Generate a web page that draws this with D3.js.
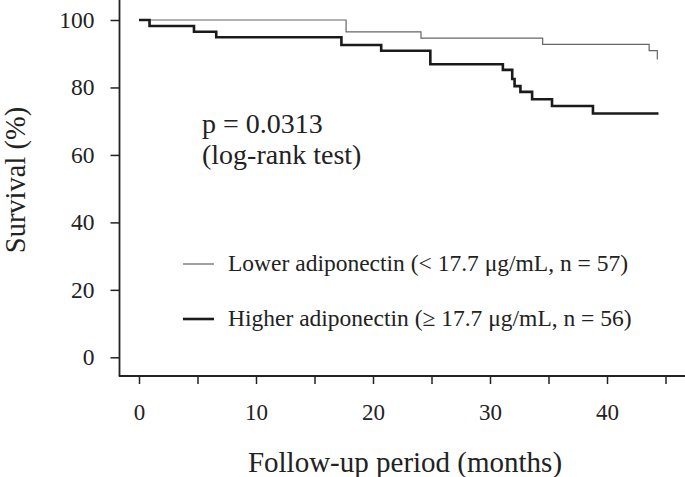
<!DOCTYPE html>
<html>
<head>
<meta charset="utf-8">
<script src="https://cdn.jsdelivr.net/npm/d3@7"></script>
<style>
  body { margin: 0; background: #fff; }
  svg text { font-family: "Liberation Serif", "Times New Roman", serif; fill: #222; }
</style>
</head>
<body>
<div id="chart"></div>
<script>
// Kaplan-Meier steps
const lowerTimes = [0, 17.7, 24.1, 34.5, 43.6, 44.3];
const lowerSurvival = [100, 96.5, 94.6, 92.8, 90.9, 88.3];

const higherTimes = [0, 0.9, 4.7, 6.6, 17.3, 20.7, 24.9, 31.1, 31.9, 32.1, 32.6, 33.6, 35.3, 38.8, 44.4];
const higherSurvival = [100, 98.2, 96.5, 94.9, 92.6, 90.9, 86.9, 85.2, 82.5, 80.4, 78.7, 76.5, 74.5, 72.3, 72.3];

const xTicks = [0, 5, 10, 15, 20, 25, 30, 35, 40, 45];
const yTicks = [0, 20, 40, 60, 80, 100];

const legendLabels = [
  "Lower adiponectin (< 17.7 \u03bcg/mL, n = 57)",
  "Higher adiponectin (\u2265 17.7 \u03bcg/mL, n = 56)"
];

const width = 685;
const height = 477;

const svg = d3.select("#chart")
  .append("svg")
  .attr("width", width)
  .attr("height", height);

const x = d3.scaleLinear().domain([0, 40]).range([139, 607]);
const y = d3.scaleLinear().domain([0, 100]).range([357.3, 20]);

const axisY0 = 376;
const axisX0 = 119.5;

// x axis
const xAxis = svg.append("g")
  .attr("transform", `translate(0, ${axisY0})`)
  .call(d3.axisBottom(x)
    .tickValues(xTicks)
    .tickSize(8)
    .tickPadding(20)
    .tickFormat(d => d % 10 === 0 ? d : ""));
xAxis.select(".domain").remove();
xAxis.selectAll(".tick line").attr("stroke", "#222").attr("stroke-width", 1.5);
xAxis.selectAll(".tick text").attr("font-size", 23).attr("fill", "#222");

svg.append("line")
  .attr("x1", axisX0 - 0.75).attr("x2", width)
  .attr("y1", axisY0).attr("y2", axisY0)
  .attr("stroke", "#222").attr("stroke-width", 1.8);

// y axis
const yAxis = svg.append("g")
  .attr("transform", `translate(${axisX0}, 0)`)
  .call(d3.axisLeft(y)
    .tickValues(yTicks)
    .tickSize(9)
    .tickPadding(16));
yAxis.select(".domain").remove();
yAxis.selectAll(".tick line").attr("stroke", "#222").attr("stroke-width", 1.5);
yAxis.selectAll(".tick text").attr("font-size", 23.5).attr("fill", "#222");

svg.append("line")
  .attr("x1", axisX0).attr("x2", axisX0)
  .attr("y1", 0).attr("y2", axisY0)
  .attr("stroke", "#222").attr("stroke-width", 1.8);

// curves
const step = d3.line()
  .x(d => x(d[0]))
  .y(d => y(d[1]))
  .curve(d3.curveStepAfter);

const lowerData = lowerTimes.map((t, i) => [t, lowerSurvival[i]]);
const higherData = higherTimes.map((t, i) => [t, higherSurvival[i]]);

svg.append("path")
  .attr("d", step(lowerData))
  .attr("fill", "none")
  .attr("stroke", "#666")
  .attr("stroke-width", 1.2);

svg.append("path")
  .attr("d", step(higherData))
  .attr("fill", "none")
  .attr("stroke", "#1a1a1a")
  .attr("stroke-width", 2.6);

// annotation
svg.append("text")
  .attr("x", 202).attr("y", 133)
  .attr("font-size", 28)
  .text("p = 0.0313");
svg.append("text")
  .attr("x", 202).attr("y", 164)
  .attr("font-size", 28)
  .text("(log-rank test)");

// legend
const legendStyles = [
  { stroke: "#555", width: 1.1 },
  { stroke: "#1a1a1a", width: 2.6 }
];
const legend = svg.append("g");
legendLabels.forEach((label, i) => {
  const ly = 264 + i * 55;
  legend.append("line")
    .attr("x1", 183).attr("x2", 214)
    .attr("y1", ly).attr("y2", ly)
    .attr("stroke", legendStyles[i].stroke)
    .attr("stroke-width", legendStyles[i].width);
  legend.append("text")
    .attr("x", 228).attr("y", ly + 7)
    .attr("font-size", 23.5)
    .text(label);
});

// axis titles
svg.append("text")
  .attr("x", 405).attr("y", 472)
  .attr("text-anchor", "middle")
  .attr("font-size", 29)
  .text("Follow-up period (months)");

svg.append("text")
  .attr("transform", "translate(25, 180) rotate(-90)")
  .attr("text-anchor", "middle")
  .attr("font-size", 28.5)
  .text("Survival (%)");
</script>
</body>
</html>
